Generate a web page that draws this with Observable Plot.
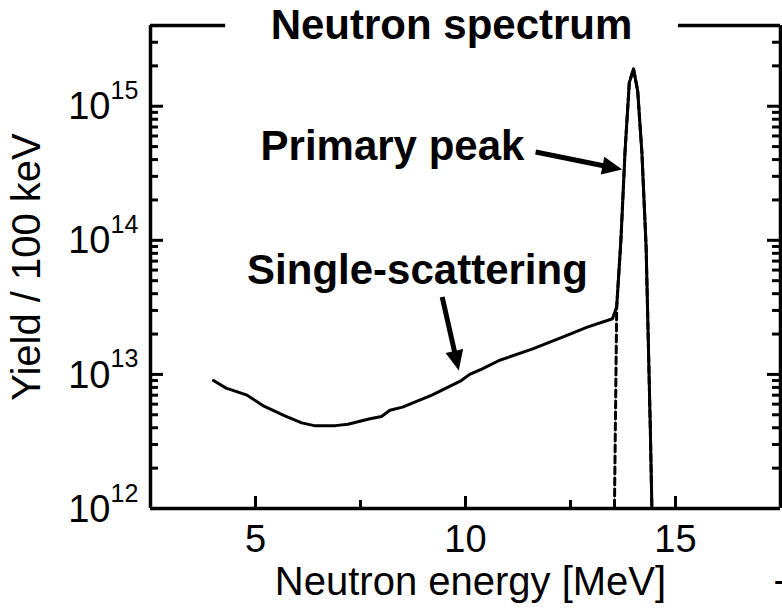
<!DOCTYPE html>
<html><head><meta charset="utf-8">
<script src="https://cdn.jsdelivr.net/npm/d3@7"></script>
<script src="https://cdn.jsdelivr.net/npm/@observablehq/plot@0.6"></script>
<style>html,body{margin:0;padding:0;background:#fff;overflow:hidden} svg{display:block}</style>
</head><body><div id="chart"></div>
<script>
// Total spectrum (solid line)
const energy = [4.0, 4.3, 4.8, 5.2, 5.7, 6.1, 6.4, 6.9, 7.2, 7.7, 8.0, 8.2, 8.5, 9.2, 9.9, 10.1, 10.4, 10.8, 11.6, 12.4, 12.9, 13.5, 13.6, 13.7, 13.8, 13.9, 14.0, 14.1, 14.2, 14.3, 14.4, 14.5];
const yieldTotal = [9.0e12, 7.9e12, 7.0e12, 5.8e12, 4.9e12, 4.35e12, 4.15e12, 4.15e12, 4.25e12, 4.65e12, 4.85e12, 5.4e12, 5.7e12, 7.0e12, 9.0e12, 1.0e13, 1.1e13, 1.27e13, 1.55e13, 1.95e13, 2.25e13, 2.6e13, 3.2e13, 1.0e14, 4.7e14, 1.5e15, 1.9e15, 1.3e15, 4.5e14, 9e13, 4e12, 1e11];
// Primary peak only (dashed line)
const peakEnergy = [13.5, 13.6, 13.7, 13.8, 13.9, 14.0, 14.1, 14.2, 14.3, 14.4, 14.5];
const yieldPeak = [5e10, 3.2e13, 1.0e14, 4.7e14, 1.5e15, 1.9e15, 1.3e15, 4.5e14, 9e13, 4e12, 1e11];

const xDomain = [2.5, 17.5];
const yDomain = [1e12, 4e15];
const xMajorTicks = [5, 10, 15];
const xMinorTicks = [7.5, 12.5];
const yMajorTicks = [1e12, 1e13, 1e14, 1e15];
const yMinorMultipliers = [2, 3, 4, 5, 6, 7, 8, 9];
const yDecades = [1e12, 1e13, 1e14, 1e15];

const titleText = "Neutron spectrum";
const xLabel = "Neutron energy [MeV]";
const yLabel = "Yield / 100 keV";
const topFrameSegments = [{x1: 2.5, x2: 4.29}, {x1: 15.07, x2: 17.5}];
const annotationLabels = ["Primary peak", "Single-scattering"];
const annotationX = [5.12, 4.8];
const annotationY = [5e14, 6e13];
const arrowX1 = [11.67, 9.445];
const arrowY1 = [4.56e14, 3.78e13];
const arrowX2 = [13.73, 9.84];
const arrowY2 = [3.37e14, 1.07e13];
const arrowRotate = [101.5, 167.2];

// layout
const W = 782, H = 611, ML = 150, MR = 2, MT = 25, MB = 103;
const pxPerMeV = (W - ML - MR) / (xDomain[1] - xDomain[0]);
const pxPerDecade = (H - MT - MB) / Math.log10(yDomain[1] / yDomain[0]);
const majorLen = 12, minorLen = 8;

const total = energy.map((e, i) => ({e, v: yieldTotal[i]}));
const peak = peakEnergy.map((e, i) => ({e, v: yieldPeak[i]}));
const yMinorTicks = yDecades.flatMap(d => yMinorMultipliers.map(m => m * d)).filter(v => v < yDomain[1]);
const annotations = annotationLabels.map((label, i) => ({label, x: annotationX[i], y: annotationY[i]}));
const arrows = arrowX1.map((x1, i) => ({x1, y1: arrowY1[i], x2: arrowX2[i], y2: arrowY2[i], rotate: arrowRotate[i]}));

// inward tick segments expressed in data units
const bottomTicks = (xs, len) => xs.map(v => ({x: v, y1: yDomain[0], y2: yDomain[0] * Math.pow(10, len / pxPerDecade)}));
const sideTicks = (ys, len) => ys.flatMap(v => [
  {y: v, x1: xDomain[0], x2: xDomain[0] + len / pxPerMeV},
  {y: v, x1: xDomain[1], x2: xDomain[1] - len / pxPerMeV}
]);
const bottomMajor = bottomTicks(xMajorTicks, majorLen);
const bottomMinor = bottomTicks(xMinorTicks, minorLen);
const sideMajor = sideTicks(yMajorTicks, majorLen + 1);
const sideMinor = sideTicks(yMinorTicks, minorLen);

const headShape = {draw(ctx, l) { ctx.moveTo(-9, 0); ctx.lineTo(0, -l); ctx.lineTo(9, 0); ctx.closePath(); }};
const font = "'Liberation Sans', Arial, Helvetica, sans-serif";
const tickStyle = {stroke: "black", strokeWidth: 3};

const chart = Plot.plot({
  width: W, height: H,
  marginLeft: ML, marginRight: MR, marginTop: MT, marginBottom: MB,
  x: {domain: xDomain, axis: null},
  y: {type: "log", domain: yDomain, axis: null},
  style: {fontFamily: font, background: "white", color: "black", overflow: "visible"},
  marks: [
    // frame
    Plot.ruleX(xDomain, {stroke: "black", strokeWidth: 3.5}),
    Plot.ruleY([yDomain[0]], {stroke: "black", strokeWidth: 3.5}),
    Plot.ruleY(topFrameSegments, {y: () => yDomain[1], x1: "x1", x2: "x2", stroke: "black", strokeWidth: 3.5}),
    // inward ticks
    Plot.ruleX(bottomMajor, {x: "x", y1: "y1", y2: "y2", ...tickStyle}),
    Plot.ruleX(bottomMinor, {x: "x", y1: "y1", y2: "y2", ...tickStyle}),
    Plot.ruleY(sideMajor, {y: "y", x1: "x1", x2: "x2", ...tickStyle}),
    Plot.ruleY(sideMinor, {y: "y", x1: "x1", x2: "x2", ...tickStyle}),
    // tick labels
    Plot.text(xMajorTicks, {x: d => d, frameAnchor: "bottom", textAnchor: "middle", lineAnchor: "top", dy: 17, text: d => String(d), fontSize: 38}),
    Plot.text(yMajorTicks, {y: d => d, frameAnchor: "left", textAnchor: "end", lineAnchor: "middle", dx: -40, dy: 1, text: () => "10", fontSize: 38}),
    Plot.text(yMajorTicks, {y: d => d, frameAnchor: "left", textAnchor: "start", lineAnchor: "middle", dx: -40, dy: -15, text: d => String(Math.round(Math.log10(d))), fontSize: 25}),
    // axis labels
    Plot.text([xLabel], {frameAnchor: "bottom", textAnchor: "middle", lineAnchor: "middle", dx: 5, dy: 74, fontSize: 40}),
    Plot.text([yLabel], {frameAnchor: "left", textAnchor: "middle", lineAnchor: "middle", rotate: -90, dx: -123, fontSize: 40}),
    Plot.text(["-"], {frameAnchor: "bottom-right", textAnchor: "start", lineAnchor: "middle", dx: -7, dy: 72, fontSize: 39}),
    // title
    Plot.text([titleText], {frameAnchor: "top", textAnchor: "middle", lineAnchor: "middle", dx: -14, dy: 0, fontSize: 42, fontWeight: "bold"}),
    // data
    Plot.line(peak, {x: "e", y: "v", stroke: "black", strokeWidth: 3, strokeDasharray: "7,4", clip: true}),
    Plot.line(total, {x: "e", y: "v", stroke: "black", strokeWidth: 3, strokeLinejoin: "round", clip: true}),
    // annotations
    Plot.text(annotations, {x: "x", y: "y", text: "label", textAnchor: "start", lineAnchor: "middle", fontSize: 42, fontWeight: "bold"}),
    Plot.arrow(arrows, {x1: "x1", y1: "y1", x2: "x2", y2: "y2", headLength: 0, insetEnd: 14, stroke: "black", strokeWidth: 5, strokeLinecap: "butt"}),
    Plot.vector(arrows, {x: "x2", y: "y2", rotate: "rotate", length: 20, anchor: "end", shape: headShape, fill: "black", stroke: "none"})
  ]
});
document.getElementById("chart").appendChild(chart);
</script>
</body></html>
